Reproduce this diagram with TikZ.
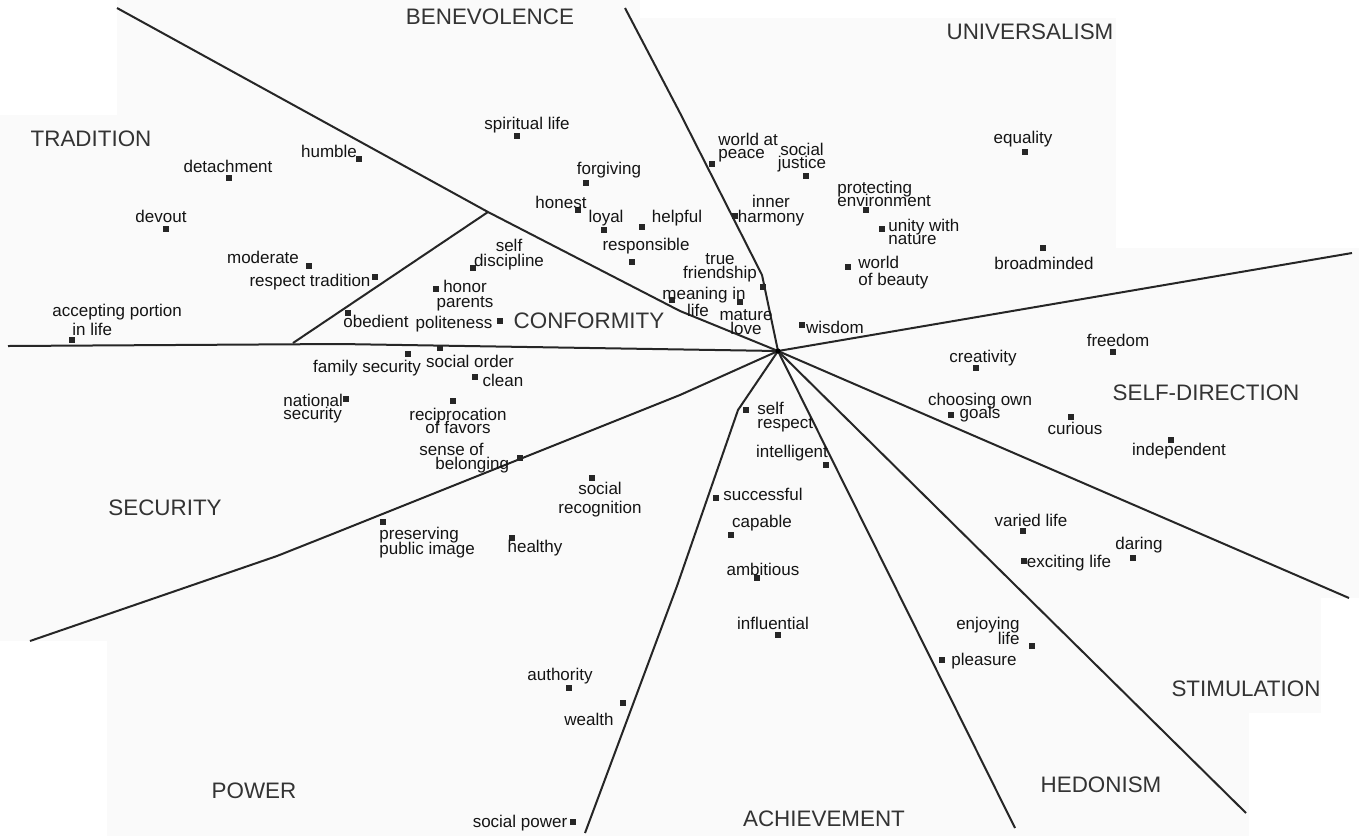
\documentclass[tikz,border=0pt]{standalone}
\usepackage{fontspec}
\setmainfont{Liberation Sans}
\begin{document}
\begin{tikzpicture}[x=0.5pt,y=-0.5pt,
  bd/.style={line width=1pt, draw=black!85, line join=round},
  mk/.style={rectangle, fill=black!85, minimum size=2.8pt, inner sep=0pt},
  lb/.style={inner sep=0pt, text=black!92, align=center, font={\fontsize{8.5}{7}\selectfont\lineskiplimit=-20pt}},
  cat/.style={inner sep=0pt, text=black!80, font=\fontsize{11.2}{13}\selectfont}]
\useasboundingbox (0,0) rectangle (1359,836);
% paper background patches
\fill[black!2] (0,0) rectangle (1359,836);
\fill[white] (0,0) rectangle (117,115);
\fill[white] (640,0) rectangle (1116,18);
\fill[white] (1116,0) rectangle (1359,248);
\fill[white] (0,641) rectangle (107,836);
\fill[white] (1321,598) rectangle (1359,836);
\fill[white] (1249,713) rectangle (1359,836);

% boundary lines
\coordinate (c) at (778,351);
\coordinate (a1) at (117,8);   \coordinate (tj) at (488,212); \coordinate (a1b) at (680,311);
\coordinate (b1) at (625,8);   \coordinate (b2) at (680,113); \coordinate (b3) at (762,275);
\coordinate (u1) at (1352,253);
\coordinate (s1) at (1349,598);
\coordinate (h1) at (1246,813);
\coordinate (e1) at (1015,828);
\coordinate (p1) at (738,410); \coordinate (p2) at (677,586); \coordinate (p3) at (585,833);
\coordinate (q1) at (680,395); \coordinate (q2) at (340,531); \coordinate (q3) at (277,556); \coordinate (q4) at (30,641);
\coordinate (r1) at (340,344); \coordinate (r2) at (8,346);
\coordinate (t1) at (293,343);

\draw[bd] (a1) -- (tj) -- (a1b) -- (c);
\draw[bd] (b1) -- (b2) -- (b3) -- (c);
\draw[bd] (c) -- (u1);
\draw[bd] (c) -- (s1);
\draw[bd] (c) -- (h1);
\draw[bd] (c) -- (e1);
\draw[bd] (c) -- (p1) -- (p2) -- (p3);
\draw[bd] (c) -- (q1) -- (q2) -- (q3) -- (q4);
\draw[bd] (c) -- (r1) -- (r2);
\draw[bd] (t1) -- (tj);
\fill[black] (c) circle (1.3pt);

% region names
\node[cat] (TR) at (91,139) {TRADITION};
\node[cat] (BE) at (490,17) {BENEVOLENCE};
\node[cat] (UN) at (1030,32) {UNIVERSALISM};
\node[cat] (CO) at (589,321) {CONFORMITY};
\node[cat] (SD) at (1206,393) {SELF-DIRECTION};
\node[cat] (SE) at (165,508) {SECURITY};
\node[cat] (ST) at (1246,689) {STIMULATION};
\node[cat] (HE) at (1101,785) {HEDONISM};
\node[cat] (PO) at (254,791) {POWER};
\node[cat] (AC) at (824,819) {ACHIEVEMENT};

% TRADITION
\node[mk] (m1) at (359,159) {}; \node[lb] (l1) at (329,151) {humble};
\node[mk] (m2) at (229,178) {}; \node[lb] (l2) at (228,166) {detachment};
\node[mk] (m3) at (166,229) {}; \node[lb] (l3) at (161,216) {devout};
\node[mk] (m4) at (309,266) {}; \node[lb] (l4) at (263,257) {moderate};
\node[mk] (m5) at (375,277) {}; \node[lb] (l5) at (310,282) {respect tradition};
\node[mk] (m6) at (72,340) {};
\node[lb, align=left, anchor=west, font={\fontsize{8.5}{9.5}\selectfont}] (l6) at (52,320) {accepting portion\\\hspace*{10pt}in life};

% CONFORMITY
\node[mk] (m7) at (473,268) {}; \node[lb, font={\fontsize{8.5}{7.5}\selectfont\lineskiplimit=-20pt}] (l7) at (509,255) {self\\discipline};
\node[mk] (m8) at (436,289) {}; \node[lb, font={\fontsize{8.5}{7.5}\selectfont\lineskiplimit=-20pt}] (l8) at (465,296) {honor\\parents};
\node[mk] (m9) at (348,313) {}; \node[lb] (l9) at (376,321) {obedient};
\node[mk] (m10) at (500,321) {}; \node[lb] (l10) at (454,324) {politeness};

% BENEVOLENCE
\node[mk] (m11) at (517,136) {}; \node[lb] (l11) at (527,125) {spiritual life};
\node[mk] (m12) at (586,183) {}; \node[lb] (l12) at (609,170) {forgiving};
\node[mk] (m13) at (578,210) {}; \node[lb] (l13) at (561,202) {honest};
\node[mk] (m14) at (604,230) {}; \node[lb] (l14) at (606,218) {loyal};
\node[mk] (m15) at (642,227) {}; \node[lb] (l15) at (677,218) {helpful};
\node[mk] (m16) at (632,262) {}; \node[lb] (l16) at (646,246) {responsible};
\node[mk] (m17) at (763,287) {}; \node[lb, font={\fontsize{8.5}{6.8}\selectfont\lineskiplimit=-20pt}] (l17) at (720,268) {true\\friendship};
\node[mk] (m18) at (672,300) {}; \node[lb, font={\fontsize{8.5}{8.5}\selectfont\lineskiplimit=-20pt}] (l18) at (704,302) {meaning in\\life\hspace*{6pt}};
\node[mk] (m19) at (740,302) {}; \node[lb, font={\fontsize{8.5}{6.8}\selectfont\lineskiplimit=-20pt}] (l19) at (746,322) {mature\\love};

% UNIVERSALISM
\node[mk] (m20) at (712,164) {}; \node[lb, align=left, anchor=west, font={\fontsize{8.5}{6.5}\selectfont\lineskiplimit=-20pt}] (l20) at (718,148) {world at\\peace};
\node[mk] (m21) at (806,176) {}; \node[lb, font={\fontsize{8.5}{6.5}\selectfont\lineskiplimit=-20pt}] (l21) at (802,158) {social\\justice};
\node[mk] (m22) at (866,210) {}; \node[lb, align=left, anchor=west, font={\fontsize{8.5}{6.5}\selectfont\lineskiplimit=-20pt}] (l22) at (837,194) {protecting\\environment};
\node[mk] (m23) at (735,216) {}; \node[lb, font={\fontsize{8.5}{7.5}\selectfont\lineskiplimit=-20pt}] (l23) at (771,211) {inner\\harmony};
\node[mk] (m24) at (882,229) {}; \node[lb, align=left, anchor=west, font={\fontsize{8.5}{6.8}\selectfont\lineskiplimit=-20pt}] (l24) at (888,232) {unity with\\nature};
\node[mk] (m25) at (848,267) {}; \node[lb, align=left, anchor=west, font={\fontsize{8.5}{8.5}\selectfont\lineskiplimit=-20pt}] (l25) at (858,273) {world\\of beauty};
\node[mk] (m26) at (1025,152) {}; \node[lb] (l26) at (1023,139) {equality};
\node[mk] (m27) at (1043,248) {}; \node[lb] (l27) at (1044,263) {broadminded};
\node[mk] (m28) at (802,325) {}; \node[lb] (l28) at (835,327) {wisdom};

% SELF-DIRECTION
\node[mk] (m29) at (1113,352) {}; \node[lb] (l29) at (1118,340) {freedom};
\node[mk] (m30) at (976,368) {}; \node[lb] (l30) at (983,358) {creativity};
\node[mk] (m31) at (951,415) {}; \node[lb, font={\fontsize{8.5}{6.5}\selectfont\lineskiplimit=-20pt}] (l31) at (980,408) {choosing own\\goals};
\node[mk] (m32) at (1071,417) {}; \node[lb] (l32) at (1075,428) {curious};
\node[mk] (m33) at (1171,440) {}; \node[lb] (l33) at (1179,451) {independent};

% STIMULATION
\node[mk] (m34) at (1023,531) {}; \node[lb] (l34) at (1031,520) {varied life};
\node[mk] (m35) at (1024,561) {}; \node[lb] (l35) at (1069,563) {exciting life};
\node[mk] (m36) at (1133,558) {}; \node[lb] (l36) at (1139,545) {daring};

% HEDONISM
\node[mk] (m37) at (1032,646) {}; \node[lb, align=right, anchor=east, font={\fontsize{8.5}{7.5}\selectfont\lineskiplimit=-20pt}] (l37) at (1020,631) {enjoying\\life};
\node[mk] (m38) at (942,660) {}; \node[lb] (l38) at (984,661) {pleasure};

% ACHIEVEMENT
\node[mk] (m39) at (746,410) {}; \node[lb, align=left, anchor=west] (l39) at (757,417) {self\\respect};
\node[mk] (m40) at (826,465) {}; \node[lb] (l40) at (792,453) {intelligent};
\node[mk] (m41) at (716,498) {}; \node[lb] (l41) at (763,494) {successful};
\node[mk] (m42) at (731,535) {}; \node[lb] (l42) at (762,523) {capable};
\node[mk] (m43) at (757,578) {}; \node[lb] (l43) at (763,569) {ambitious};
\node[mk] (m44) at (778,635) {}; \node[lb] (l44) at (773,623) {influential};

% POWER
\node[mk] (m45) at (569,688) {}; \node[lb] (l45) at (560,676) {authority};
\node[mk] (m46) at (623,703) {}; \node[lb] (l46) at (589,719) {wealth};
\node[mk] (m47) at (573,822) {}; \node[lb] (l47) at (520,823) {social power};

% SECURITY
\node[mk] (m48) at (408,354) {}; \node[lb] (l48) at (367,368) {family security};
\node[mk] (m49) at (440,348) {}; \node[lb] (l49) at (470,361) {social order};
\node[mk] (m50) at (475,377) {}; \node[lb] (l50) at (503,380) {clean};
\node[mk] (m51) at (346,399) {}; \node[lb, align=left, anchor=west, font={\fontsize{8.5}{6.5}\selectfont\lineskiplimit=-20pt}] (l51) at (283,409) {national\\security};
\node[mk] (m52) at (453,401) {}; \node[lb, font={\fontsize{8.5}{6.8}\selectfont\lineskiplimit=-20pt}] (l52) at (458,421) {reciprocation\\of favors};
\node[mk] (m53) at (520,458) {}; \node[lb, align=left, anchor=west] (l53) at (419,458) {sense of\\\hspace*{8pt}belonging};
\node[mk] (m54) at (592,478) {}; \node[lb, font={\fontsize{8.5}{9.5}\selectfont\lineskiplimit=-20pt}] (l54) at (600,500) {social\\recognition};
\node[mk] (m55) at (383,522) {}; \node[lb, align=left, anchor=west, font={\fontsize{8.5}{7.5}\selectfont\lineskiplimit=-20pt}] (l55) at (379,543) {preserving\\public image};
\node[mk] (m56) at (512,538) {}; \node[lb] (l56) at (535,548) {healthy};
\end{tikzpicture}
\end{document}
